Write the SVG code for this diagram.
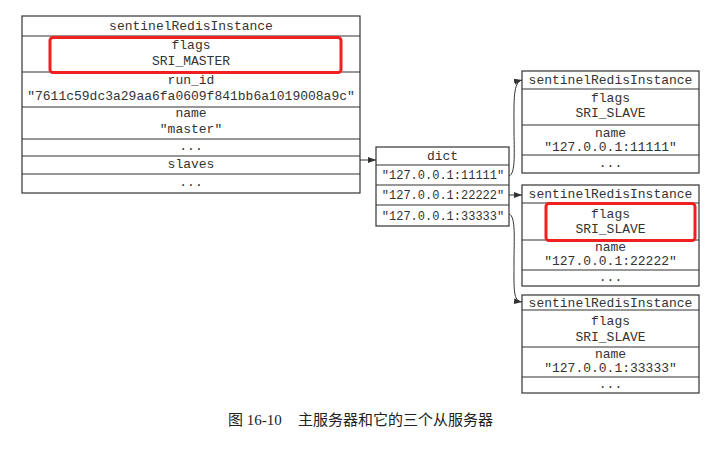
<svg xmlns="http://www.w3.org/2000/svg" width="722" height="449" viewBox="0 0 722 449">
<style>
.b{fill:#fff;stroke:#333;stroke-width:1.2}
.l{stroke:#333;stroke-width:1.2}
.t{font-family:"Liberation Mono","DejaVu Sans Mono",monospace;font-size:13px;fill:#333;text-anchor:middle}
.s{font-size:12px}
.r{fill:none;stroke:#f02020;stroke-width:3}
.c{fill:none;stroke:#333;stroke-width:1}
.cap{font-family:"Liberation Serif","Noto Sans CJK SC",serif;font-size:15px;fill:#222}
</style>
<defs>
<marker id="a" markerWidth="8" markerHeight="6" refX="8" refY="3" orient="auto" markerUnits="userSpaceOnUse">
<path d="M0,0 L8,3 L0,6 z" fill="#333"/>
</marker>
</defs>
<rect width="722" height="449" fill="#fff"/>
<g id="master">
<rect class="b" x="22" y="16" width="338" height="177"/>
<line class="l" x1="22" y1="36" x2="360" y2="36"/>
<line class="l" x1="22" y1="72" x2="360" y2="72"/>
<line class="l" x1="22" y1="107" x2="360" y2="107"/>
<line class="l" x1="22" y1="139" x2="360" y2="139"/>
<line class="l" x1="22" y1="156" x2="360" y2="156"/>
<line class="l" x1="22" y1="174" x2="360" y2="174"/>
<text class="t" x="191" y="30">sentinelRedisInstance</text>
<text class="t" x="191" y="49">flags</text>
<text class="t" x="191" y="65">SRI_MASTER</text>
<text class="t" x="191" y="84">run_id</text>
<text class="t" x="191" y="100">"7611c59dc3a29aa6fa0609f841bb6a1019008a9c"</text>
<text class="t" x="191" y="117">name</text>
<text class="t" x="191" y="133">"master"</text>
<text class="t" x="191" y="150">...</text>
<text class="t" x="191" y="168">slaves</text>
<text class="t" x="191" y="186">...</text>
<rect class="r" x="50" y="37.5" width="291" height="35" rx="3"/>
</g>
<g id="dict">
<rect class="b" x="376" y="147" width="133" height="79"/>
<line class="l" x1="376" y1="165" x2="509" y2="165"/>
<line class="l" x1="376" y1="185" x2="509" y2="185"/>
<line class="l" x1="376" y1="205" x2="509" y2="205"/>
<text class="t" x="442.5" y="160">dict</text>
<text class="t s" x="443" y="179">"127.0.0.1:11111"</text>
<text class="t s" x="443" y="199">"127.0.0.1:22222"</text>
<text class="t s" x="443" y="220">"127.0.0.1:33333"</text>
</g>
<g id="slave1">
<rect class="b" x="522" y="71" width="177" height="102"/>
<line class="l" x1="522" y1="89" x2="699" y2="89"/>
<line class="l" x1="522" y1="125" x2="699" y2="125"/>
<line class="l" x1="522" y1="155" x2="699" y2="155"/>
<text class="t" x="610.5" y="84">sentinelRedisInstance</text>
<text class="t" x="610.5" y="102">flags</text>
<text class="t" x="610.5" y="117">SRI_SLAVE</text>
<text class="t" x="610.5" y="137">name</text>
<text class="t" x="610.5" y="151">"127.0.0.1:11111"</text>
<text class="t" x="610.5" y="167">...</text>
</g>
<g id="slave2">
<rect class="b" x="522" y="185" width="177" height="101"/>
<line class="l" x1="522" y1="203" x2="699" y2="203"/>
<line class="l" x1="522" y1="240" x2="699" y2="240"/>
<line class="l" x1="522" y1="270" x2="699" y2="270"/>
<text class="t" x="610.5" y="198">sentinelRedisInstance</text>
<text class="t" x="610.5" y="218">flags</text>
<text class="t" x="610.5" y="233">SRI_SLAVE</text>
<text class="t" x="610.5" y="251">name</text>
<text class="t" x="610.5" y="265">"127.0.0.1:22222"</text>
<text class="t" x="610.5" y="281">...</text>
<rect class="r" x="546" y="203.5" width="149" height="37" rx="3"/>
</g>
<g id="slave3">
<rect class="b" x="522" y="295" width="177" height="98"/>
<line class="l" x1="522" y1="310" x2="699" y2="310"/>
<line class="l" x1="522" y1="347" x2="699" y2="347"/>
<line class="l" x1="522" y1="377" x2="699" y2="377"/>
<text class="t" x="610.5" y="307">sentinelRedisInstance</text>
<text class="t" x="610.5" y="325">flags</text>
<text class="t" x="610.5" y="341">SRI_SLAVE</text>
<text class="t" x="610.5" y="358">name</text>
<text class="t" x="610.5" y="372">"127.0.0.1:33333"</text>
<text class="t" x="610.5" y="388">...</text>
</g>
<g id="connectors">
<line class="c" x1="360" y1="160" x2="376" y2="160" marker-end="url(#a)"/>
<path class="c" d="M509,176 C516,174 514,150 514,128 C514,100 513,82 522,80" marker-end="url(#a)"/>
<line class="c" x1="509" y1="195" x2="522" y2="195" marker-end="url(#a)"/>
<path class="c" d="M509,214 C516,216 514,240 514,262 C514,290 513,301 522,302" marker-end="url(#a)"/>
</g>
<g id="caption">
<text class="cap" x="228" y="425">图 16-10</text>
<text class="cap" x="298" y="425">主服务器和它的三个从服务器</text>
</g>
</svg>
